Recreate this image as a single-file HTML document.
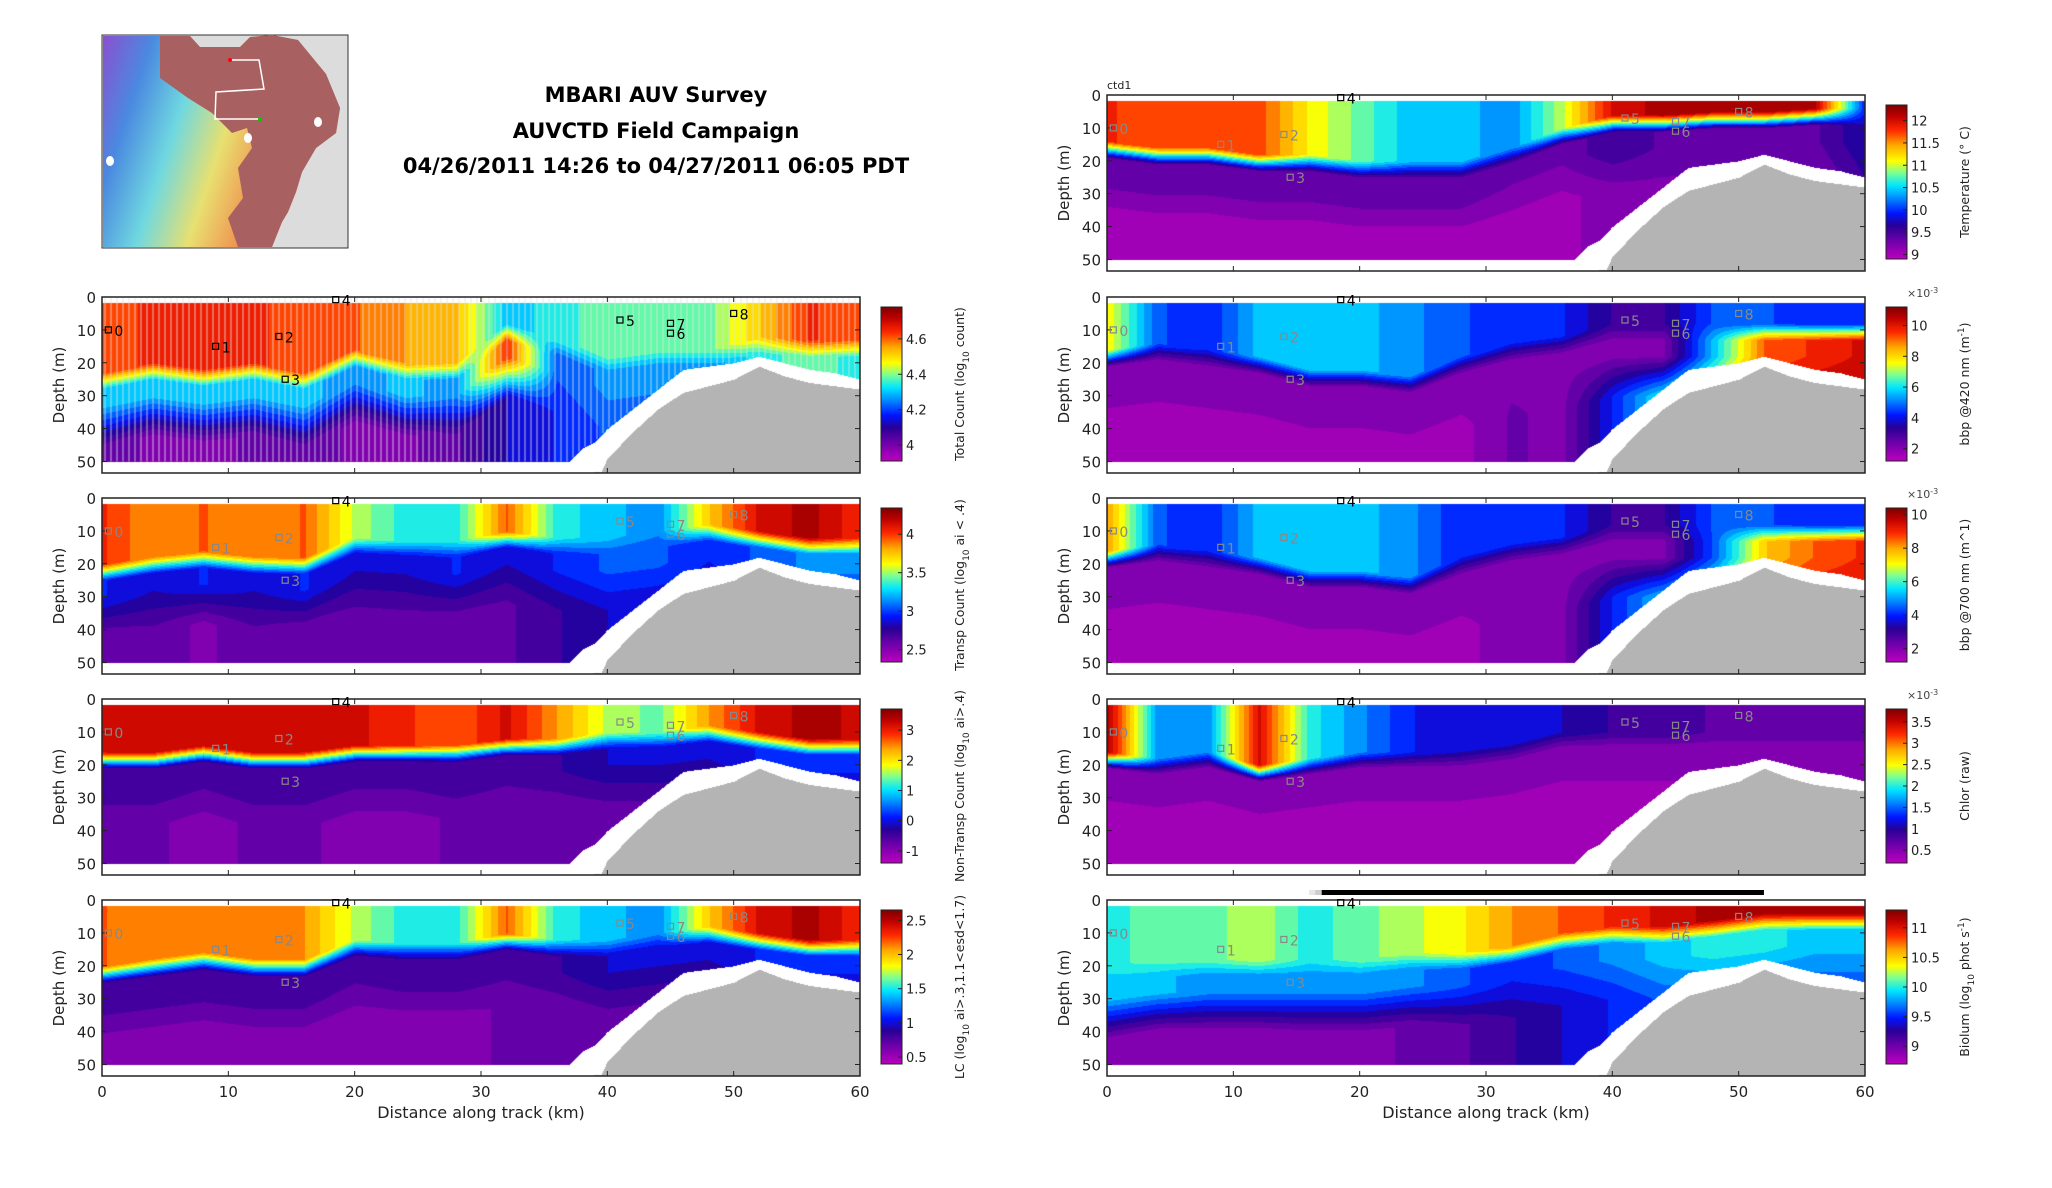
<!DOCTYPE html>
<html><head><meta charset="utf-8">
<style>
html,body{margin:0;padding:0;background:#fff;}
#root{position:relative;width:2052px;height:1188px;overflow:hidden;font-family:"DejaVu Sans","Liberation Sans",sans-serif;}
canvas{position:absolute;}
svg{position:absolute;left:0;top:0;}
</style></head>
<body>
<div id="root">
<svg id="map" width="2052" height="1188" style="pointer-events:none">
  <defs>
    <linearGradient id="rb" x1="0" y1="0" x2="1" y2="0.3">
      <stop offset="0" stop-color="#8a4fd0"/><stop offset="0.2" stop-color="#4a8ae0"/>
      <stop offset="0.4" stop-color="#70d8e0"/><stop offset="0.6" stop-color="#e8e070"/>
      <stop offset="0.8" stop-color="#f09050"/><stop offset="1" stop-color="#c06060"/>
    </linearGradient>
  </defs>
  <rect x="102" y="35" width="246" height="213" fill="#dcdcdc" stroke="#333" stroke-width="1"/>
  <path d="M103,36 L190,36 L200,47 L240,47 L250,37 L272,35 L298,40 L326,74 L340,108 L336,133 L316,148 L302,172 L296,192 L288,212 L282,222 L272,247 L103,247 Z" fill="url(#rb)"/>
  <path d="M160,36 L190,36 L200,47 L240,47 L250,37 L272,35 L298,40 L326,74 L340,108 L336,133 L316,148 L302,172 L296,192 L288,212 L282,222 L272,247 L238,247 L228,218 L243,198 L238,168 L252,148 L247,128 L232,133 L212,113 L188,98 L160,78 Z" fill="#a86060"/>
  <path d="M230,60 L259,60 L264,89 L216,92 L215,119 L259,119" fill="none" stroke="#fff" stroke-width="1.5"/>
  <circle cx="230" cy="60" r="2" fill="#f00"/><circle cx="260" cy="119" r="2" fill="#0c0"/>
  <ellipse cx="318" cy="122" rx="4" ry="5" fill="#fff"/><ellipse cx="248" cy="138" rx="4" ry="5" fill="#fff"/><ellipse cx="110" cy="161" rx="4" ry="5" fill="#fff"/>
</svg>
<div style="position:absolute;left:356px;width:600px;top:78px;text-align:center;font-weight:bold;font-size:21px;line-height:35.5px;color:#000;font-family:'DejaVu Sans',sans-serif">MBARI AUV Survey<br>AUVCTD Field Campaign<br>04/26/2011 14:26 to 04/27/2011 06:05 PDT</div>
<svg id="axes" width="2052" height="1188"></svg>
</div>
<script>
// ---- shared data ----
const kmCols = [0,4,8,12,16,20,24,28,32,36,40,44,48,52,56,60];
const floorKm = [0,36,38,39.5,40,42,44,46,48,50,52,54,56,58,60];
const floorDepth = [53.5,53.5,53.5,53,49,41,34,29,27,25,21,24,26,27,28];
const dataBottomKm = [0,37,38,39,40,42,44,46,48,50,52,54,56,58,60];
const dataBottom = [50,50,46,44,40,34,28,22,21,20,18,20,22,23,25];
const stationNames = ["0","1","2","3","4","5","6","7","8"];
const stationKm = [0.5,9,14,14.5,18.5,41,45,45,50];
const stationDepth = [10,15,12,25,0.8,7,11,8,5];
const xTicks = [0,10,20,30,40,50,60];
const yTicks = [0,10,20,30,40,50];

// panel series (normalized colour values 0..1, mixed layer depth m)
const l1Surf = [.82,.85,.85,.85,.82,.8,.75,.72,.45,.5,.55,.55,.55,.7,.85,.8];
const l1Mld  = [25,22,24,22,25,18,22,22,10,15,20,18,18,14,15,15];
const l1Mid  = [.45,.45,.45,.45,.45,.4,.45,.4,.85,.35,.4,.4,.4,.5,.55,.5];
const l1Bot  = [.15,.1,.1,.12,.15,.1,.1,.15,.25,.3,.35,.35,.35,.4,.4,.4];
const l2Surf = [.85,.75,.8,.75,.8,.6,.5,.5,.8,.5,.45,.4,.7,.9,.95,.85];
const l2Mld  = [22,20,18,20,20,14,15,15,12,14,14,12,10,12,14,14];
const l2Mid  = [.3,.25,.3,.25,.3,.25,.25,.3,.25,.3,.35,.35,.3,.35,.4,.4];
const l2Bot  = [.12,.15,.1,.15,.12,.15,.15,.15,.15,.2,.25,.25,.25,.25,.25,.25];
const l3Surf = [.9,.92,.92,.92,.9,.9,.85,.8,.9,.75,.6,.55,.75,.9,.95,.92];
const l3Mld  = [18,18,16,18,18,16,16,16,14,14,12,12,10,12,14,14];
const l3Mid  = [.2,.2,.18,.2,.2,.18,.18,.2,.18,.2,.25,.25,.25,.3,.3,.3];
const l3Bot  = [.12,.12,.1,.12,.12,.1,.1,.12,.12,.12,.15,.15,.15,.15,.15,.15];
const l4Surf = [.8,.75,.75,.75,.75,.6,.5,.5,.8,.5,.45,.4,.7,.9,.95,.85];
const l4Mld  = [22,20,18,20,20,14,15,15,12,14,14,12,10,12,14,14];
const l4Mid  = [.2,.2,.2,.2,.2,.18,.2,.2,.18,.2,.25,.25,.25,.3,.3,.3];
const l4Bot  = [.1,.1,.1,.1,.1,.1,.1,.1,.12,.12,.15,.15,.15,.15,.15,.15];
const r1Surf = [.85,.8,.8,.82,.65,.55,.45,.45,.4,.6,.9,.95,.95,.95,.95,.3];
const r1Mld  = [16,18,18,20,20,22,22,22,18,12,8,8,7,7,6,6];
const r1Mid  = [.15,.15,.15,.15,.15,.15,.15,.15,.12,.12,.2,.15,.15,.15,.15,.25];
const r1Bot  = [.05,.05,.05,.05,.05,.05,.05,.05,.05,.05,.1,.1,.1,.1,.1,.2];
const r2Surf = [.65,.35,.3,.45,.45,.45,.4,.35,.3,.3,.2,.2,.35,.35,.3,.3];
const r2Mld  = [18,16,18,20,24,24,26,20,16,14,10,10,10,10,10,10];
const r2Mid  = [.1,.1,.1,.1,.1,.1,.1,.1,.1,.1,.1,.1,.45,.8,.85,.9];
const r2Bot  = [.05,.05,.05,.05,.05,.05,.05,.05,.12,.1,.3,.5,.7,.9,.95,.95];
const r3Surf = [.75,.35,.3,.45,.45,.45,.4,.3,.3,.3,.2,.2,.35,.35,.3,.3];
const r3Mld  = [18,16,18,20,24,24,26,20,16,14,10,10,10,10,10,10];
const r3Mid  = [.1,.1,.1,.1,.1,.1,.1,.1,.1,.1,.1,.1,.35,.7,.8,.85];
const r3Bot  = [.05,.05,.05,.05,.05,.05,.05,.05,.1,.1,.3,.45,.6,.85,.9,.9];
const r4Surf = [.95,.4,.4,.9,.5,.4,.3,.25,.25,.25,.2,.2,.15,.15,.15,.15];
const r4Mld  = [18,20,18,22,20,18,18,18,16,12,12,12,12,12,12,12];
const r4Mid  = [.08,.08,.08,.08,.08,.08,.08,.08,.08,.08,.08,.08,.08,.08,.08,.08];
const r4Bot  = [.05,.05,.05,.05,.05,.05,.05,.05,.05,.05,.05,.05,.05,.05,.05,.05];
const r5Surf = [.5,.55,.55,.6,.5,.55,.6,.65,.75,.8,.85,.9,.95,.95,.95,.95];
const r5Mld  = [22,20,20,20,20,20,18,18,16,12,10,10,8,6,6,6];
const r5Mid  = [.45,.45,.4,.4,.4,.4,.4,.35,.3,.35,.4,.45,.5,.5,.45,.45];
const r5Bot  = [.1,.08,.08,.08,.1,.1,.12,.15,.2,.25,.3,.35,.35,.35,.35,.35];

const l1Ticks = ["4.6","4.4","4.2","4"]; const l1Vals=[4.6,4.4,4.2,4]; const l1Range=[3.91,4.78];
const l2Ticks = ["4","3.5","3","2.5"]; const l2Vals=[4,3.5,3,2.5]; const l2Range=[2.34,4.34];
const l3Ticks = ["3","2","1","0","-1"]; const l3Vals=[3,2,1,0,-1]; const l3Range=[-1.4,3.7];
const l4Ticks = ["2.5","2","1.5","1","0.5"]; const l4Vals=[2.5,2,1.5,1,0.5]; const l4Range=[0.4,2.65];
const r1Ticks = ["12","11.5","11","10.5","10","9.5","9"]; const r1Vals=[12,11.5,11,10.5,10,9.5,9]; const r1Range=[8.9,12.35];
const r2Ticks = ["10","8","6","4","2"]; const r2Vals=[10,8,6,4,2]; const r2Range=[1.2,11.2];
const r3Ticks = ["10","8","6","4","2"]; const r3Vals=[10,8,6,4,2]; const r3Range=[1.2,10.4];
const r4Ticks = ["3.5","3","2.5","2","1.5","1","0.5"]; const r4Vals=[3.5,3,2.5,2,1.5,1,0.5]; const r4Range=[0.2,3.8];
const r5Ticks = ["11","10.5","10","9.5","9"]; const r5Vals=[11,10.5,10,9.5,9]; const r5Range=[8.7,11.3];

const LX=102, RX=1107;
const panels = [
 {id:"total-count",x:LX,y:297,surf:l1Surf,mld:l1Mld,mid:l1Mid,bot:l1Bot,ticks:l1Ticks,vals:l1Vals,range:l1Range,label:'Total Count (log<tspan baseline-shift="sub" font-size="9">10</tspan> count)',xl:false,stripes:true,mark:"#000",exp:false},
 {id:"transp-count",x:LX,y:498,surf:l2Surf,mld:l2Mld,mid:l2Mid,bot:l2Bot,ticks:l2Ticks,vals:l2Vals,range:l2Range,label:'Transp Count (log<tspan baseline-shift="sub" font-size="9">10</tspan> ai &lt; .4)',xl:false,mark:"#888",exp:false},
 {id:"nontransp-count",x:LX,y:699,surf:l3Surf,mld:l3Mld,mid:l3Mid,bot:l3Bot,ticks:l3Ticks,vals:l3Vals,range:l3Range,label:'Non-Transp Count (log<tspan baseline-shift="sub" font-size="9">10</tspan> ai&gt;.4)',xl:false,mark:"#888",exp:false},
 {id:"lc-count",x:LX,y:900,surf:l4Surf,mld:l4Mld,mid:l4Mid,bot:l4Bot,ticks:l4Ticks,vals:l4Vals,range:l4Range,label:'LC (log<tspan baseline-shift="sub" font-size="9">10</tspan> ai&gt;.3,1.1&lt;esd&lt;1.7)',xl:true,mark:"#888",exp:false},
 {id:"temperature",x:RX,y:95,surf:r1Surf,mld:r1Mld,mid:r1Mid,bot:r1Bot,ticks:r1Ticks,vals:r1Vals,range:r1Range,label:'Temperature (° C)',xl:false,mark:"#888",exp:false},
 {id:"bbp420",x:RX,y:297,surf:r2Surf,mld:r2Mld,mid:r2Mid,bot:r2Bot,ticks:r2Ticks,vals:r2Vals,range:r2Range,label:'bbp @420 nm (m<tspan baseline-shift="super" font-size="9">-1</tspan>)',xl:false,mark:"#888",exp:true},
 {id:"bbp700",x:RX,y:498,surf:r3Surf,mld:r3Mld,mid:r3Mid,bot:r3Bot,ticks:r3Ticks,vals:r3Vals,range:r3Range,label:'bbp @700 nm (m^1)',xl:false,mark:"#888",exp:true},
 {id:"chlorophyll",x:RX,y:699,surf:r4Surf,mld:r4Mld,mid:r4Mid,bot:r4Bot,ticks:r4Ticks,vals:r4Vals,range:r4Range,label:'Chlor (raw)',xl:false,mark:"#888",exp:true},
 {id:"bioluminescence",x:RX,y:900,surf:r5Surf,mld:r5Mld,mid:r5Mid,bot:r5Bot,ticks:r5Ticks,vals:r5Vals,range:r5Range,label:'Biolum (log<tspan baseline-shift="sub" font-size="9">10</tspan> phot s<tspan baseline-shift="super" font-size="9">-1</tspan>)',xl:true,mark:"#888",exp:false}
];

const W=758,H=176,DMAX=53.5;
function interp(xs,ys,x){ if(x<=xs[0])return ys[0]; for(let i=1;i<xs.length;i++){ if(x<=xs[i]){const t=(x-xs[i-1])/(xs[i]-xs[i-1]); return ys[i-1]+t*(ys[i]-ys[i-1]);} } return ys[ys.length-1]; }
function jet(t){
  t=Math.max(0,Math.min(1,t));
  const st=[[0,[190,0,190]],[.12,[110,0,170]],[.22,[40,0,150]],[.3,[0,20,255]],[.4,[0,140,255]],[.48,[0,230,255]],[.56,[120,255,150]],[.64,[255,255,0]],[.74,[255,170,0]],[.84,[255,40,0]],[.93,[190,0,0]],[1,[130,0,0]]];
  for(let i=1;i<st.length;i++){ if(t<=st[i][0]){const a=st[i-1],b=st[i];const f=(t-a[0])/(b[0]-a[0]);return [0,1,2].map(k=>Math.round(a[1][k]+f*(b[1][k]-a[1][k])));} }
  return st[st.length-1][1];
}
const root=document.getElementById('root');
const svg=document.getElementById('axes');
const NS="http://www.w3.org/2000/svg";
function sv(tag,attrs,parent){const e=document.createElementNS(NS,tag);for(const k in attrs)e.setAttribute(k,attrs[k]);(parent||svg).appendChild(e);return e;}

panels.forEach(p=>{
  const xS=km=>p.x+km/60*W;
  const yS=d=>p.y+d/DMAX*H;
  const cv=document.createElement('canvas');
  cv.width=W;cv.height=H;cv.style.left=p.x+'px';cv.style.top=p.y+'px';
  
  
  root.insertBefore(cv,svg);
  const ctx=cv.getContext('2d');const img=ctx.createImageData(W,H);
  for(let px=0;px<W;px++){
    const km=px/W*60;
    const s=interp(kmCols,p.surf,km),m=interp(kmCols,p.mld,km),mi=interp(kmCols,p.mid,km),b=interp(kmCols,p.bot,km);
    const db=interp(dataBottomKm,dataBottom,km),fd=interp(floorKm,floorDepth,km);
    for(let py=0;py<H;py++){
      const d=py/H*DMAX;let c;
      if(d>=fd) c=[180,180,180];
      else if(d<1.8||d>db) c=[255,255,255];
      else{
        let v;
        if(d<m-2) v=s; else if(d<m+3) v=s+(mi-s)*(d-m+2)/5;
        else if(d<m+8) v=mi; else if(d<m+20) v=mi+(b-mi)*(d-m-8)/12; else v=b;
        v=Math.round(v*22)/22;
        c=jet(v);
      }
      const i=(py*W+px)*4;img.data[i]=c[0];img.data[i+1]=c[1];img.data[i+2]=c[2];img.data[i+3]=255;
    }
  }
  ctx.putImageData(img,0,0);
  if(p.stripes){
    ctx.strokeStyle='rgba(225,225,225,0.55)';ctx.lineWidth=1.5;
    for(let px=3;px<W;px+=6){const km=px/W*60;const db=interp(dataBottomKm,dataBottom,km);ctx.beginPath();ctx.moveTo(px,0);ctx.lineTo(px,db/DMAX*H);ctx.stroke();}
  }
  const g=sv('g',{});
  
  
  sv('rect',{x:p.x,y:p.y,width:W,height:H,fill:'none',stroke:'#222','stroke-width':1.5},g);
  xTicks.forEach((t,i)=>{
    const x=xS(t);
    sv('line',{x1:x,x2:x,y1:p.y,y2:p.y+5,stroke:'#222'},g);
    sv('line',{x1:x,x2:x,y1:p.y+H,y2:p.y+H-5,stroke:'#222'},g);
    if(p.xl){const tx=sv('text',{x:x,y:p.y+H+21,'font-size':15,'text-anchor':'middle',fill:'#222'},g);tx.textContent=t;
      
      }
  });
  yTicks.forEach(t=>{
    const y=yS(t);
    sv('line',{x1:p.x,x2:p.x+5,y1:y,y2:y,stroke:'#222'},g);
    sv('line',{x1:p.x+W,x2:p.x+W-5,y1:y,y2:y,stroke:'#222'},g);
    const tx=sv('text',{x:p.x-6,y:y+6,'font-size':15,'text-anchor':'end',fill:'#222'},g);tx.textContent=t;
    
    
  });
  const yl=sv('text',{x:0,y:0,'font-size':15,'text-anchor':'middle',fill:'#222',transform:`translate(${p.x-38},${p.y+H/2}) rotate(-90)`},g);yl.textContent='Depth (m)';
  
  
  if(p.xl){const xl=sv('text',{x:p.x+W/2,y:p.y+H+42,'font-size':16,'text-anchor':'middle',fill:'#222'},g);xl.textContent='Distance along track (km)';
    
    }
  stationNames.forEach((n,i)=>{
    const col=(n==="4")?"#000":p.mark;
    const x=xS(stationKm[i]),y=yS(stationDepth[i]);
    const r=sv('rect',{x:x-3,y:y-3,width:6,height:6,fill:'none',stroke:col,'stroke-width':1.2},g);
    
    
    const t=sv('text',{x:x+6,y:y+6,'font-size':14,fill:col},g);t.textContent=n;
    
    
  });
  const cbx=p.x+W+21,cby=p.y+10,cbh=154,cbw=21;
  const cb=sv('g',{});
  
  
  for(let k=0;k<cbh;k++){const c=jet(1-k/cbh);sv('rect',{x:cbx,y:cby+k,width:cbw,height:1.2,fill:`rgb(${c})`},cb);}
  sv('rect',{x:cbx,y:cby,width:cbw,height:cbh,fill:'none',stroke:'#222','stroke-width':1},cb);
  p.ticks.forEach((lab,i)=>{
    const v=p.vals[i];const y=cby+(p.range[1]-v)/(p.range[1]-p.range[0])*cbh;
    sv('line',{x1:cbx+cbw-4,x2:cbx+cbw,y1:y,y2:y,stroke:'#222'},cb);
    const t=sv('text',{x:cbx+cbw+4,y:y+5,'font-size':13,fill:'#222'},cb);t.textContent=lab;
    
    
  });
  if(p.exp){const e=sv('text',{x:cbx+cbw,y:cby-10,'font-size':11,fill:'#444'},cb);e.innerHTML='×10<tspan baseline-shift="super" font-size="8">-3</tspan>';
    
    }
  const cl=sv('text',{x:0,y:0,'font-size':12.5,'text-anchor':'middle',fill:'#222',transform:`translate(${cbx+cbw+62},${cby+cbh/2}) rotate(-90)`},cb);cl.innerHTML=p.label;
  
  
});
const c1=sv('text',{x:RX,y:89,'font-size':11,fill:'#222'});c1.textContent='ctd1';


const tb=sv('g',{});


for(let k=0;k<10;k++){const gr=230-k*25;sv('rect',{x:RX+16/60*W+k*6,y:890,width:6,height:5,fill:`rgb(${gr},${gr},${gr})`},tb);}
sv('rect',{x:RX+17/60*W,y:890,width:(52-17)/60*W,height:5,fill:'#000'},tb);
</script>
</body></html>
